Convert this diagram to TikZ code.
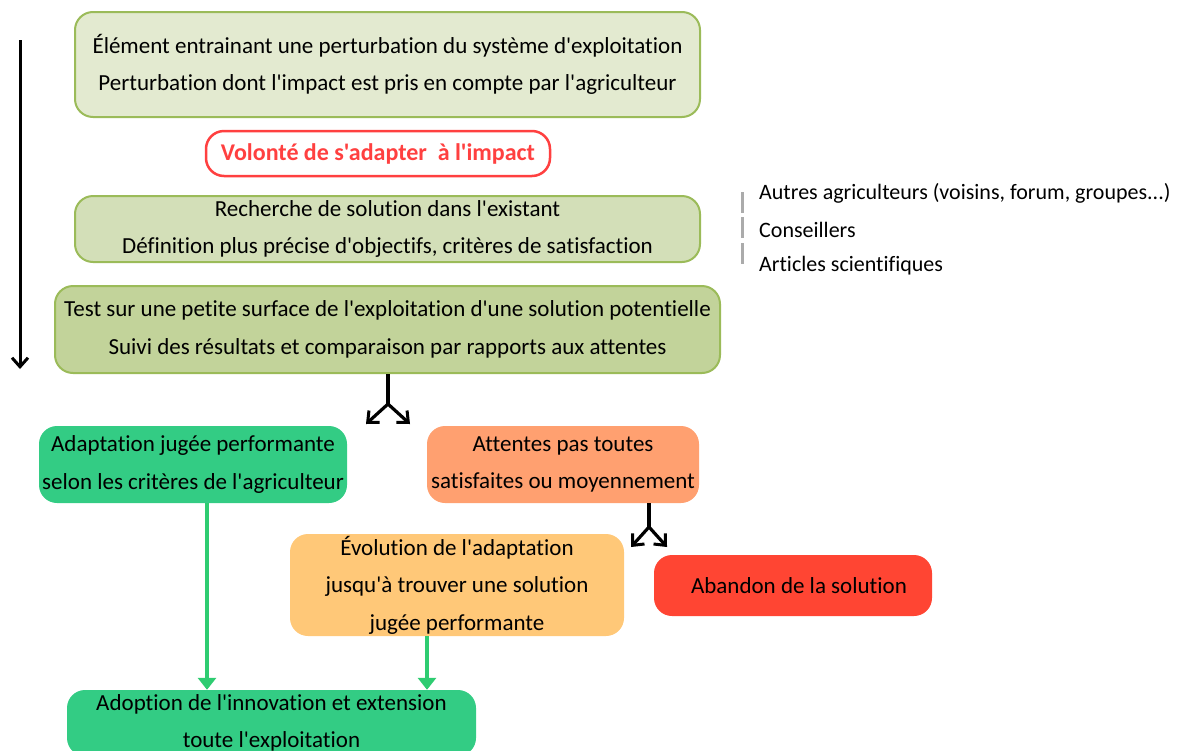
\documentclass[tikz,border=0pt]{standalone}
\usepackage{fontspec}
\setmainfont{Carlito}[Ligatures=NoCommon]
\newfontfamily\calfont{Carlito}[Ligatures=NoCommon]
\usetikzlibrary{arrows.meta}
\definecolor{olive}{HTML}{9BBB59}
\definecolor{pale1}{HTML}{E3EAD0}
\definecolor{pale2}{HTML}{D3DFB8}
\definecolor{pale3}{HTML}{C2D39A}
\definecolor{vred}{HTML}{FF4040}
\definecolor{vgreen}{HTML}{33CC84}
\definecolor{salmon}{HTML}{FFA070}
\definecolor{lorange}{HTML}{FFC878}
\definecolor{bred}{HTML}{FF4533}
\definecolor{agreen}{HTML}{2ECC71}
\definecolor{bargray}{HTML}{ABABAB}
\tikzset{
  box/.style={rectangle, rounded corners=18pt, inner sep=0pt, align=center,
    font=\calfont\fontsize{23}{37.5}\selectfont, text=black},
  obox/.style={box, draw=olive, line width=2pt},
  split/.style={line width=3.2pt, -{Straight Barb[length=9pt,width=16pt,line width=3pt]}},
  garrow/.style={agreen, line width=3.2pt, -{Triangle[length=12pt,width=18pt]}},
  listtxt/.style={anchor=west, inner sep=0pt, font=\calfont\fontsize{22}{26}\selectfont},
  bar/.style={bargray, line width=3pt}
}
\begin{document}
\begin{tikzpicture}[x=1pt,y=-1pt]
\useasboundingbox (0,0) rectangle (1177,750);
\clip (0,0) rectangle (1177,750);
% main column
\node[obox, fill=pale1, minimum width=625pt, minimum height=105pt] (top) at (387.5,64.5)
  {Élément entrainant une perturbation du système d'exploitation\\Perturbation dont l'impact est pris en compte par l'agriculteur};
\node[box, draw=vred, line width=2.5pt, fill=white, minimum width=344pt, minimum height=45pt,
  font=\calfont\fontsize{24}{28}\selectfont\bfseries, text=vred] (vol) at (378,153.5)
  {Volonté de s'adapter \ à l'impact};
\node[obox, fill=pale2, minimum width=625pt, minimum height=66pt] (rech) at (387.5,229)
  {Recherche de solution dans l'existant\\Définition plus précise d'objectifs, critères de satisfaction};
\node[obox, fill=pale3, minimum width=665pt, minimum height=87pt] (test) at (387.5,329.5)
  {Test sur une petite surface de l'exploitation d'une solution potentielle\\Suivi des résultats et comparaison par rapports aux attentes};
% outcome boxes
\node[box, fill=vgreen, minimum width=308pt, minimum height=77pt] (adapt) at (193,464.5)
  {Adaptation jugée performante\\selon les critères de l'agriculteur};
\node[box, fill=salmon, minimum width=272pt, minimum height=77pt] (att) at (563,464.5)
  {Attentes pas toutes\\satisfaites ou moyennement};
\node[box, fill=lorange, minimum width=334pt, minimum height=102pt] (evol) at (457,585)
  {Évolution de l'adaptation\\jusqu'à trouver une solution\\jugée performante};
\node[box, fill=bred, minimum width=278pt, minimum height=61pt] (aban) at (793,585.5)
  {\hspace*{12pt}Abandon de la solution};
\node[box, fill=vgreen, minimum width=409pt, minimum height=66pt] (adop) at (271.5,723)
  {Adoption de l'innovation et extension\\toute l'exploitation};
% left timeline arrow
\coordinate (la) at (20,40);
\coordinate (lb) at (20,369);
\draw[line width=3pt, -{Straight Barb[length=9pt,width=16pt,line width=3pt]}] (la) -- (lb);
% split arrows
\coordinate (s1) at (388,404);
\coordinate (s1l) at (366,424);
\coordinate (s1r) at (410,424);
\draw[line width=3.2pt] (test.south -| s1) -- (s1);
\draw[split] (s1) -- (s1l);
\draw[split] (s1) -- (s1r);
\coordinate (s2) at (649,527);
\coordinate (s2l) at (631,547);
\coordinate (s2r) at (667,547);
\draw[line width=3.2pt] (att.south -| s2) -- (s2);
\draw[split] (s2) -- (s2l);
\draw[split] (s2) -- (s2r);
% green arrows
\draw[garrow] (adapt.south -| 207,0) -- (adop.north -| 207,0);
\draw[garrow] (evol.south -| 427,0) -- (adop.north -| 427,0);
% side list
\node[listtxt] (l1) at (759,193) {Autres agriculteurs (voisins, forum, groupes...)};
\node[listtxt] (l2) at (759,230) {Conseillers};
\node[listtxt] (l3) at (759,266) {Articles scientifiques};
\draw[bar] (742,192) -- (742,213);
\draw[bar] (742,217) -- (742,238);
\draw[bar] (742,243) -- (742,264);
\end{tikzpicture}
\end{document}
